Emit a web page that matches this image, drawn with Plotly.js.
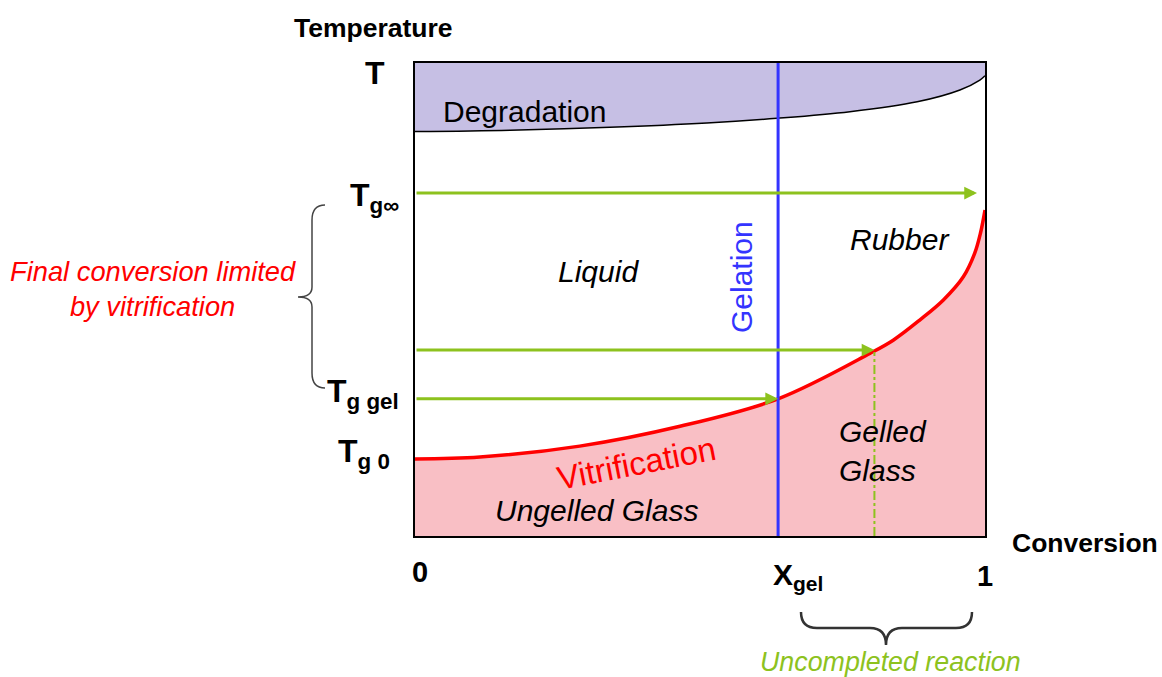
<!DOCTYPE html>
<html>
<head>
<meta charset="utf-8">
<script src="https://cdn.plot.ly/plotly-3.0.1.min.js"></script>
<style>html,body{margin:0;padding:0;background:#fff;}#chart{width:1162px;height:677px;}</style>
</head>
<body>
<div id="chart"></div>
<script>
// ---- data (diagram values, conversion 0..1, temperature 0..1) ----
const degradationX = [0, 0.167, 0.342, 0.512, 0.635, 0.763, 0.881, 0.956, 0.991, 1.0];
const degradationY = [0.855, 0.858, 0.864, 0.873, 0.883, 0.897, 0.918, 0.943, 0.964, 0.973];
const vitrificationX = [0, 0.114, 0.289, 0.465, 0.637, 0.798, 0.839, 0.886, 0.927, 0.962, 0.982, 0.992, 1.0];
const vitrificationY = [0.163, 0.167, 0.190, 0.232, 0.290, 0.386, 0.414, 0.457, 0.499, 0.548, 0.598, 0.640, 0.689];
const xGel = 0.637;
const arrowTemps = [0.725, 0.393, 0.290];       // Tg∞, intermediate, Tg gel
const arrowEnds  = [0.986, 0.806, 0.637];       // conversion reached
const limitX = 0.806;                             // dash-dot line (final conversion)
const limitTop = 0.389;

// ---- styling ----
const FONT = '"Liberation Sans", Arial, sans-serif';
const GREEN = '#8dc21e', RED = '#ff0000', BLUE = '#3434ff';
const L = 415, R = 985, T = 63, B = 536;
const px = v => (v - L) / (R - L);
const py = v => (B - v) / (B - T);

const traces = [
  {x: [0, 1], y: [1, 1], mode: 'lines', line: {width: 0}, hoverinfo: 'skip', showlegend: false},
  {x: degradationX, y: degradationY, mode: 'lines', line: {color: '#000', width: 1.5, shape: 'spline', smoothing: 1},
   fill: 'tonexty', fillcolor: '#c6bfe4', hoverinfo: 'skip', showlegend: false},
  {x: vitrificationX, y: vitrificationY, mode: 'lines', line: {color: RED, width: 3.5, shape: 'spline', smoothing: 1},
   fill: 'tozeroy', fillcolor: '#f9bfc5', hoverinfo: 'skip', showlegend: false},
  {x: [limitX, limitX], y: [0, limitTop], mode: 'lines', line: {color: GREEN, width: 2, dash: 'dashdot'},
   hoverinfo: 'skip', showlegend: false},
  {x: [xGel, xGel], y: [0, 1], mode: 'lines', line: {color: BLUE, width: 3}, hoverinfo: 'skip', showlegend: false}
];

const ann = [];
arrowTemps.forEach((t, i) => {
  ann.push({x: arrowEnds[i], y: t, xref: 'x', yref: 'y', ax: 0, ay: t, axref: 'x', ayref: 'y',
    text: '', showarrow: true, arrowhead: 2, arrowsize: 0.85, arrowwidth: 3, arrowcolor: GREEN, standoff: 0});
});
function txt(text, x, y, size, opts) {
  return Object.assign({text: text, x: px(x), y: py(y), xref: 'paper', yref: 'paper', showarrow: false,
    xanchor: 'center', yanchor: 'middle', font: {family: FONT, size: size, color: '#000'}}, opts || {});
}
ann.push(txt('<b>Temperature</b>', 373, 28, 26.5));
ann.push(txt('<b>Conversion</b>', 1085, 543, 26.5));
ann.push(txt('<b>T</b>', 375, 73, 32));
ann.push(txt('<b>T<sub>g∞</sub></b>', 401, 197, 32, {xanchor: 'right'}));
ann.push(txt('<b>T<sub>g gel</sub></b>', 401, 393, 32, {xanchor: 'right'}));
ann.push(txt('<b>T<sub>g 0</sub></b>', 392, 453, 32, {xanchor: 'right'}));
ann.push(txt('<b>0</b>', 420, 572, 29));
ann.push(txt('<b>X<sub>gel</sub></b>', 798, 576, 30));
ann.push(txt('<b>1</b>', 985, 576, 29));
ann.push(txt('Degradation', 524, 111, 30));
ann.push(txt('<i>Liquid</i>', 598, 271, 30));
ann.push(txt('<i>Rubber</i>', 899, 239, 30));
ann.push(txt('Gelation', 741, 277, 30, {textangle: -90, font: {family: FONT, size: 30, color: BLUE}}));
ann.push(txt('Vitrification', 636, 463, 33, {textangle: -11, font: {family: FONT, size: 33, color: RED}}));
ann.push(txt('<i>Ungelled Glass</i>', 596, 510, 30));
ann.push(txt('<i>Gelled</i><br><i>Glass</i>', 883, 451, 30, {align: 'left'}));
ann.push(txt('<i>Final conversion limited</i><br><i>by vitrification</i>', 153, 289, 27.3,
  {align: 'center', font: {family: FONT, size: 27.3, color: RED}}));
ann.push(txt('<i>Uncompleted reaction</i>', 890, 662, 26.8, {font: {family: FONT, size: 26.8, color: GREEN}}));

function path(cmds) {
  return cmds.map(c => c[0] + c.slice(1).map((v, i) => (i % 2 === 0 ? px(v) : py(v)).toFixed(5)).join(',')).join(' ');
}
const shapes = [
  {type: 'path', xref: 'paper', yref: 'paper', line: {color: '#333', width: 2.5},
   path: path([['M', 801, 612], ['Q', 801, 628, 817, 628], ['L', 870, 628], ['Q', 886, 628, 886, 645],
               ['Q', 886, 628, 902, 628], ['L', 956, 628], ['Q', 972, 628, 972, 612]])},
  {type: 'path', xref: 'paper', yref: 'paper', line: {color: '#444', width: 1.5},
   path: path([['M', 325, 205], ['Q', 312, 205, 312, 220], ['L', 312, 287], ['Q', 312, 297, 298, 297],
               ['Q', 312, 297, 312, 307], ['L', 312, 373], ['Q', 312, 388, 325, 388]])}
];

const layout = {
  width: 1162, height: 677,
  margin: {l: L, r: 1162 - R, t: T, b: 677 - B, pad: 0},
  paper_bgcolor: '#fff', plot_bgcolor: '#fff',
  xaxis: {range: [0, 1], showgrid: false, zeroline: false, showticklabels: false, ticks: '',
          showline: true, mirror: true, linecolor: '#000', linewidth: 2, fixedrange: true},
  yaxis: {range: [0, 1], showgrid: false, zeroline: false, showticklabels: false, ticks: '',
          showline: true, mirror: true, linecolor: '#000', linewidth: 2, fixedrange: true},
  showlegend: false, hovermode: false,
  annotations: ann, shapes: shapes
};
Plotly.newPlot('chart', traces, layout, {displayModeBar: false, staticPlot: true});
</script>
</body>
</html>
